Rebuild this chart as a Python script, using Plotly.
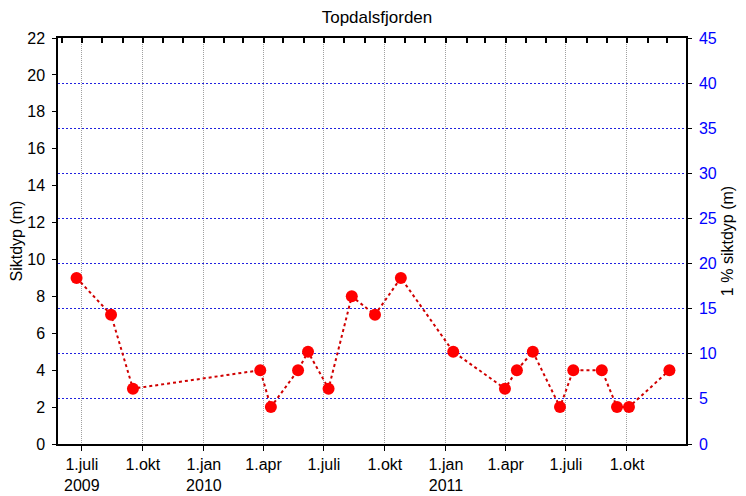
import plotly.graph_objects as go

dates = ["2009-06-23", "2009-08-14", "2009-09-16", "2010-03-27", "2010-04-12",
         "2010-05-23", "2010-06-07", "2010-07-08", "2010-08-12", "2010-09-16",
         "2010-10-25", "2011-01-12", "2011-03-31", "2011-04-18", "2011-05-12",
         "2011-06-22", "2011-07-12", "2011-08-24", "2011-09-16", "2011-10-04",
         "2011-12-04"]
siktdyp = [9, 7, 3, 4, 2, 4, 5, 3, 8, 7, 9, 5, 3, 4, 5, 2, 4, 4, 2, 2, 4]

tick_vals = ["2009-07-01", "2009-10-01", "2010-01-01", "2010-04-01", "2010-07-01",
             "2010-10-01", "2011-01-01", "2011-04-01", "2011-07-01", "2011-10-01"]
tick_text = ["1.juli<br>2009", "1.okt", "1.jan<br>2010", "1.apr", "1.juli",
             "1.okt", "1.jan<br>2011", "1.apr", "1.juli", "1.okt"]
left_ticks = list(range(0, 23, 2))
right_ticks = list(range(0, 46, 5))
x_range = ["2009-05-26", "2011-12-29"]

FONT = "Liberation Sans, Arial, sans-serif"

fig = go.Figure()
fig.add_trace(go.Scatter(
    x=dates, y=siktdyp, mode="lines+markers",
    line=dict(color="#d00000", width=2, dash="dot"),
    marker=dict(color="#ff0000", size=12),
    xaxis="x", yaxis="y", showlegend=False, hoverinfo="skip"))
# invisible helpers so the right axis and the top month-tick axis exist
fig.add_trace(go.Scatter(x=x_range, y=[0, 0], mode="markers",
                         marker=dict(opacity=0), xaxis="x", yaxis="y2",
                         showlegend=False, hoverinfo="skip"))
fig.add_trace(go.Scatter(x=x_range, y=[0, 0], mode="markers",
                         marker=dict(opacity=0), xaxis="x2", yaxis="y",
                         showlegend=False, hoverinfo="skip"))

# page body has an 8px margin, so the figure is sized to fill the window
fig.update_layout(
    template="none",
    width=738, height=488,
    margin=dict(l=50, r=60, t=30, b=52, autoexpand=False),
    paper_bgcolor="white", plot_bgcolor="white",
    font=dict(family=FONT, size=16, color="black"),
    title=dict(text="Topdalsfjorden", x=0.5, xanchor="center", y=0.982,
               yanchor="middle", font=dict(size=17, family=FONT)),
    xaxis=dict(type="date", range=x_range, tickmode="array",
               tickvals=tick_vals, ticktext=tick_text, automargin=False,
               showgrid=True, gridcolor="#a0a0a0", griddash="1px,1px",
               gridwidth=1,
               ticks="outside", ticklen=5, tickcolor="black",
               showline=True, linecolor="black", linewidth=1.5, mirror=True,
               zeroline=False, tickfont=dict(size=16)),
    xaxis2=dict(type="date", range=x_range, overlaying="x", side="top",
                anchor="y", tickmode="linear", tick0="2009-06-01", dtick="M1",
                ticks="inside", ticklen=5, tickcolor="black", tickwidth=1.5,
                automargin=False, showticklabels=False, showgrid=False,
                showline=False, zeroline=False),
    yaxis=dict(range=[0, 22], side="left", anchor="x",
               tickmode="array", tickvals=left_ticks, showgrid=False,
               ticks="outside", ticklen=4, tickcolor="black", automargin=False,
               showline=True, linecolor="black", linewidth=1.5,
               zeroline=False, tickfont=dict(size=16), ticklabelstandoff=4,
               title=dict(text="Siktdyp (m)", font=dict(size=16),
                          standoff=2)),
    yaxis2=dict(range=[0, 45], side="right", overlaying="y", anchor="x",
                tickmode="array", tickvals=right_ticks, showgrid=True,
                gridcolor="#2020e0", griddash="2px,2px", gridwidth=1,
                ticks="outside", ticklen=4, tickcolor="black", automargin=False,
                tickfont=dict(color="#0000ff", size=16), ticklabelstandoff=4,
                showline=True, linecolor="black", linewidth=1.5,
                zeroline=False,
                title=dict(text="1 % siktdyp (m)", font=dict(size=16),
                           standoff=6)),
)

fig.write_html("out.html")
